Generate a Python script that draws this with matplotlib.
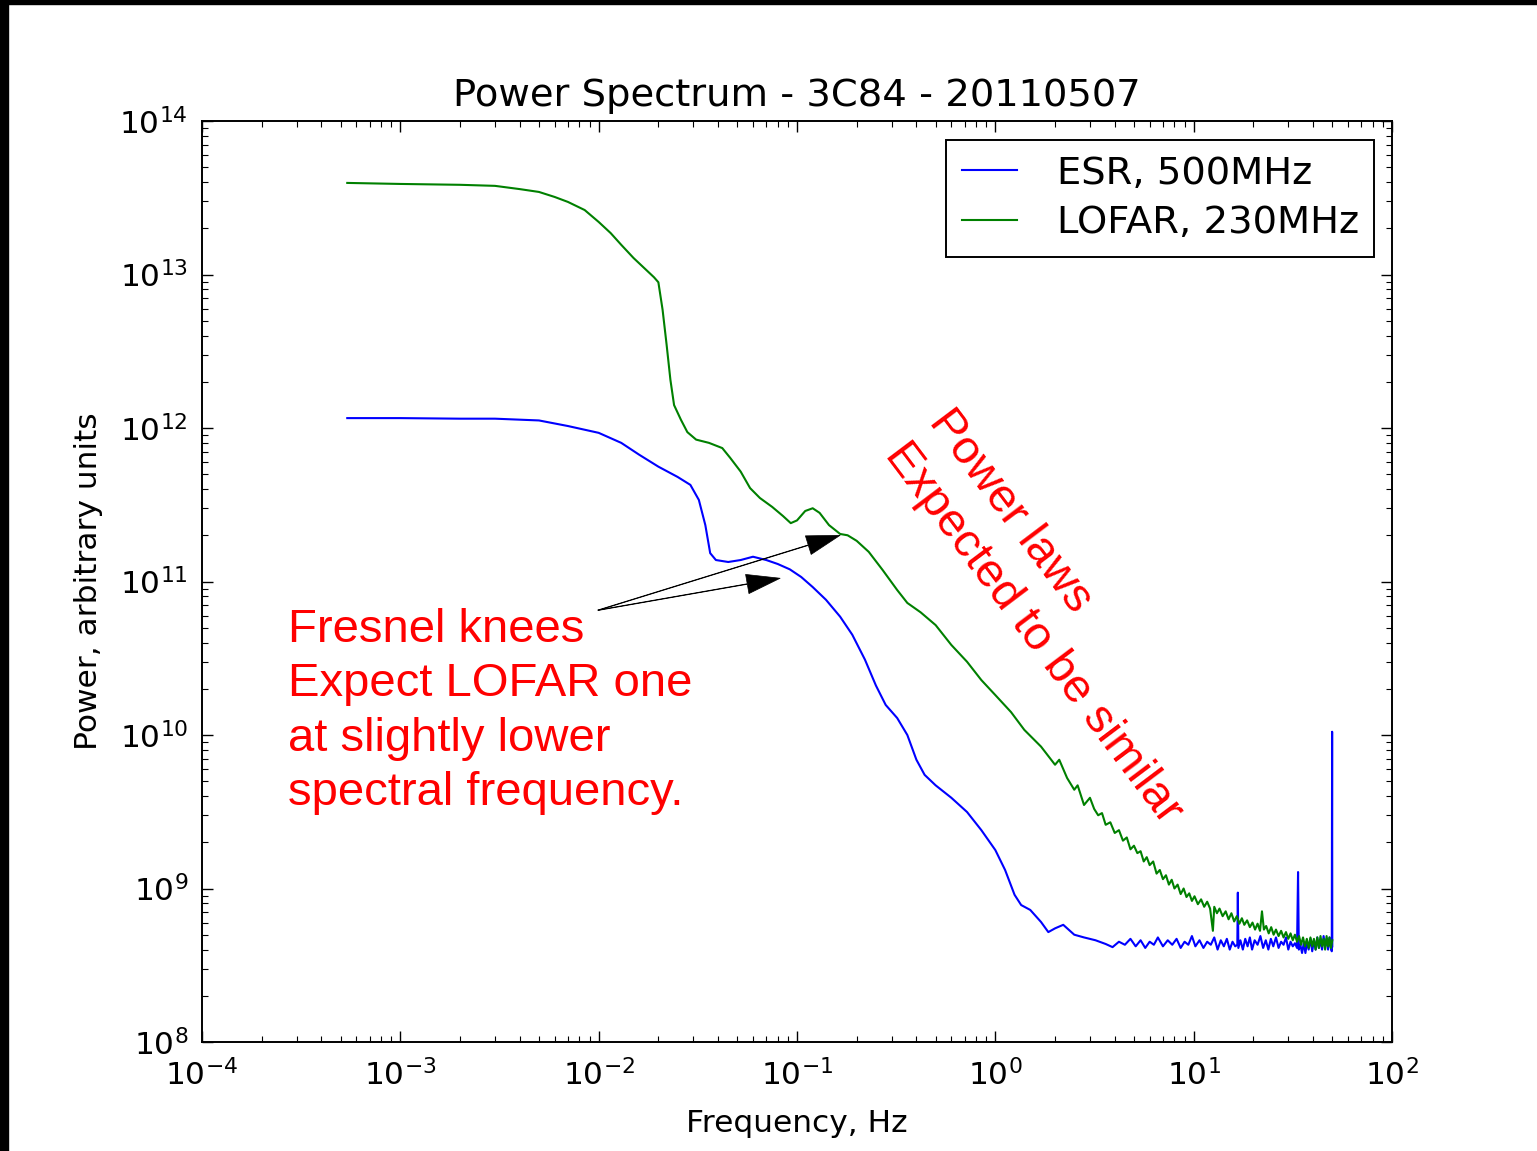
import matplotlib
matplotlib.use("Agg")
import matplotlib.pyplot as plt
from matplotlib.patches import Rectangle

# ESR 500 MHz spectrum
esr_freq = [5.4e-4, 1e-3, 2e-3, 3e-3, 5e-3, 7e-3, 1.0e-2, 1.3e-2, 1.6e-2, 2.0e-2,
            2.5e-2, 2.9e-2, 3.2e-2, 3.45e-2, 3.65e-2, 3.9e-2, 4.5e-2, 5.2e-2, 6.0e-2, 7.0e-2,
            8.0e-2, 9.2e-2, 0.105, 0.12, 0.14, 0.165, 0.19, 0.22, 0.25, 0.28,
            0.32, 0.36, 0.40, 0.44, 0.50, 0.60, 0.72, 0.85, 1.0, 1.12,
            1.25, 1.35, 1.5, 1.7, 1.85, 2.0, 2.2, 2.5, 2.8, 3.2,
            3.6, 3.9, 4.2,
            4.5, 4.8, 5.1, 5.4, 5.7, 6.0, 6.3, 6.6, 7.0, 7.4,
            7.8, 8.2, 8.6, 9.0, 9.4, 9.8, 10.2, 10.7, 11.2, 11.7,
            12.2, 12.7, 13.2, 13.7, 14.2, 14.7, 15.2, 15.7, 16.2, 16.6,
            16.7, 16.8, 17.2, 17.7, 18.2, 18.7, 19.2, 19.7, 20.3, 21.0,
            21.7, 22.4, 23.1, 23.8, 24.5, 25.2, 26.0, 26.8, 27.6, 28.4,
            29.2, 30.0, 30.8, 31.6, 32.4, 33.2, 33.6, 33.9, 34.5, 35.2,
            35.9, 36.6, 37.3, 38.0, 38.8, 39.6, 40.4, 41.2, 42.0, 42.8,
            43.6, 44.4, 45.2, 46.0, 46.8, 47.6, 48.4, 49.2, 49.7, 49.9,
            50.0]
esr_power = [1.16e12, 1.16e12, 1.15e12, 1.15e12, 1.12e12, 1.03e12, 9.3e11, 8.0e11, 6.7e11, 5.6e11,
             4.8e11, 4.26e11, 3.4e11, 2.33e11, 1.53e11, 1.38e11, 1.34e11, 1.38e11, 1.45e11, 1.38e11,
             1.30e11, 1.20e11, 1.07e11, 9.2e10, 7.6e10, 5.9e10, 4.5e10, 3.1e10, 2.1e10, 1.57e10,
             1.29e10, 1.0e10, 6.9e9, 5.5e9, 4.7e9, 3.9e9, 3.15e9, 2.4e9, 1.78e9, 1.32e9,
             9.1e8, 7.8e8, 7.25e8, 6.05e8, 5.2e8, 5.5e8, 5.8e8, 5.0e8, 4.8e8, 4.6e8,
             4.35e8, 4.15e8, 4.5e8,
             4.3e8, 4.7e8, 4.2e8, 4.6e8, 4.1e8, 4.5e8, 4.3e8, 4.8e8, 4.2e8, 4.6e8,
             4.3e8, 4.7e8, 4.1e8, 4.5e8, 4.3e8, 4.9e8, 4.2e8, 4.6e8, 4.1e8, 4.5e8,
             4.3e8, 4.8e8, 4.0e8, 4.6e8, 4.2e8, 4.7e8, 4.0e8, 4.5e8, 4.2e8, 4.3e8,
             9.4e8, 4.1e8, 4.6e8, 4.0e8, 4.7e8, 4.2e8, 4.8e8, 4.0e8, 4.6e8, 4.3e8,
             4.9e8, 4.1e8, 4.6e8, 4.0e8, 4.7e8, 4.2e8, 4.8e8, 4.1e8, 4.5e8, 4.3e8,
             4.8e8, 4.0e8, 4.5e8, 4.2e8, 4.4e8, 4.1e8, 12.8e8, 4.0e8, 4.3e8, 3.8e8,
             4.4e8, 3.8e8, 4.5e8, 4.0e8, 4.7e8, 3.9e8, 4.6e8, 4.0e8, 4.8e8, 4.1e8,
             4.6e8, 4.0e8, 4.9e8, 4.2e8, 4.7e8, 4.0e8, 4.8e8, 4.1e8, 3.9e8, 105e8,
             4.2e8]

# LOFAR 230 MHz spectrum
lofar_freq = [5.4e-4, 1e-3, 2e-3, 3e-3, 4e-3, 5e-3, 6e-3, 7e-3, 8.5e-3, 1.0e-2,
              1.15e-2, 1.3e-2, 1.5e-2, 1.7e-2, 1.9e-2, 2.0e-2, 2.1e-2, 2.2e-2, 2.3e-2, 2.4e-2,
              2.6e-2, 2.8e-2, 3.1e-2, 3.6e-2, 4.2e-2, 4.6e-2, 5.2e-2, 5.8e-2, 6.5e-2, 7.5e-2,
              8.5e-2, 9.3e-2, 0.1, 0.11, 0.12, 0.13, 0.145, 0.165, 0.18, 0.2,
              0.23, 0.27, 0.32, 0.36, 0.42, 0.5, 0.6, 0.72, 0.85, 1.0,
              1.2, 1.4, 1.7, 2.0, 2.1, 2.3, 2.5, 2.6, 2.8,
              3.0, 3.15, 3.3, 3.45, 3.6, 3.8, 4.0, 4.2, 4.4, 4.6,
              4.8, 5.0, 5.2, 5.4, 5.6, 5.8, 6.0, 6.25, 6.5, 6.75,
              7.0, 7.25, 7.5, 7.75, 8.0, 8.3, 8.6, 8.9, 9.2, 9.5,
              9.8, 10.1, 10.5, 10.9, 11.3, 11.7, 12.1, 12.5, 12.7, 13.1,
              13.5, 14.0, 14.5, 15.0, 15.5, 16.0, 16.5, 17.0, 17.5, 18.0,
              18.6, 19.2, 19.8, 20.4, 21.0, 21.6, 22.1, 22.6, 23.2, 23.9,
              24.6, 25.3, 26.0, 26.8, 27.6, 28.4, 29.2, 30.0, 30.8, 31.6,
              32.4, 33.2, 34.0, 34.8, 35.6, 36.4, 37.2, 38.0, 38.8, 39.6,
              40.4, 41.2, 42.0, 42.8, 43.6, 44.4, 45.2, 46.0, 46.8, 47.6,
              48.4, 49.2, 50.0]
lofar_power = [3.95e13, 3.89e13, 3.84e13, 3.78e13, 3.6e13, 3.45e13, 3.2e13, 2.97e13, 2.63e13, 2.2e13,
               1.86e13, 1.56e13, 1.28e13, 1.1e13, 9.6e12, 8.9e12, 5.9e12, 3.5e12, 2.06e12, 1.41e12,
               1.13e12, 9.4e11, 8.4e11, 8.0e11, 7.4e11, 6.4e11, 5.2e11, 4.06e11, 3.5e11, 3.06e11,
               2.67e11, 2.4e11, 2.5e11, 2.88e11, 3.0e11, 2.8e11, 2.33e11, 2.04e11, 2.0e11, 1.84e11,
               1.56e11, 1.19e11, 8.8e10, 7.25e10, 6.3e10, 5.2e10, 3.86e10, 3.0e10, 2.28e10, 1.82e10,
               1.41e10, 1.08e10, 8.4e9, 6.4e9, 6.9e9, 5.25e9, 4.4e9, 4.7e9, 3.5e9,
               3.9e9, 3.3e9, 3.0e9, 3.1e9, 2.6e9, 2.7e9, 2.3e9, 2.4e9, 2.05e9, 2.15e9,
               1.8e9, 1.9e9, 1.7e9, 1.75e9, 1.5e9, 1.6e9, 1.42e9, 1.5e9, 1.25e9, 1.32e9,
               1.15e9, 1.22e9, 1.06e9, 1.14e9, 1.0e9, 1.06e9, 9.2e8, 1.0e9, 8.8e8, 9.3e8,
               8.3e8, 8.9e8, 7.9e8, 8.5e8, 7.6e8, 8.2e8, 7.4e8, 5.3e8, 7.6e8, 6.9e8,
               7.4e8, 6.6e8, 7.1e8, 6.3e8, 6.9e8, 6.1e8, 6.6e8, 5.9e8, 6.4e8, 5.8e8,
               6.2e8, 5.6e8, 6.0e8, 5.4e8, 5.9e8, 5.3e8, 7.1e8, 5.4e8, 5.7e8, 5.1e8,
               5.6e8, 5.0e8, 5.4e8, 4.9e8, 5.3e8, 4.8e8, 5.2e8, 4.7e8, 5.1e8, 4.6e8,
               5.0e8, 4.5e8, 4.9e8, 4.3e8, 4.8e8, 4.2e8, 4.7e8, 4.1e8, 4.8e8, 4.2e8,
               4.7e8, 4.0e8, 4.8e8, 4.1e8, 4.9e8, 4.2e8, 4.7e8, 4.0e8, 4.9e8, 4.2e8,
               4.8e8, 4.1e8, 4.6e8]

plt.rcParams['font.family'] = ['DejaVu Sans']
plt.rcParams['axes.unicode_minus'] = False

fig = plt.figure(figsize=(15.37, 11.51), dpi=100)
ax = fig.add_axes([202 / 1537, 1 - 1042 / 1151, 1190 / 1537, 921 / 1151])

ax.plot(esr_freq, esr_power, color='#0000ff', lw=1.5, label='ESR, 500MHz')
ax.plot(lofar_freq, lofar_power, color='#008000', lw=1.5, label='LOFAR, 230MHz')

ax.set_xscale('log')
ax.set_yscale('log')
ax.set_xlim(1e-4, 1e2)
ax.set_ylim(1e8, 1e14)

for s in ax.spines.values():
    s.set_linewidth(1.4)
ax.tick_params(which='both', direction='in', top=True, right=True, labelsize=22.5)
ax.tick_params(which='major', length=8, width=1.0)
ax.tick_params(which='minor', length=4, width=0.8)
ax.tick_params(axis='x', pad=12)
ax.tick_params(axis='y', pad=10)

ax.set_title('Power Spectrum - 3C84 - 20110507', fontsize=27.7, pad=11)
ax.set_xlabel('Frequency, Hz', fontsize=22.5, labelpad=13)
ax.set_ylabel('Power, arbitrary units', fontsize=22.5, labelpad=12)

leg = ax.legend(loc='upper right', bbox_to_anchor=(0.985, 0.979), borderaxespad=0,
                fontsize=27.7, fancybox=False, framealpha=1, edgecolor='black',
                handlelength=1.43, handletextpad=1.04, labelspacing=0.35, borderpad=0.4)
leg.get_frame().set_linewidth(1.4)

red_font = ['Liberation Sans', 'DejaVu Sans']
ax.text(2.72e-4, 6.7e10, 'Fresnel knees\nExpect LOFAR one\nat slightly lower\nspectral frequency.',
        color='red', fontsize=34, family=red_font, ha='left', va='top', linespacing=1.3)
ax.text(0.624, 1.49e12, 'Power laws\nExpected to be similar', color='red', fontsize=34,
        family=red_font, ha='left', va='top', rotation=-53, rotation_mode='anchor',
        linespacing=1.3)

arrow = dict(facecolor='black', edgecolor='black', width=0.4, headwidth=14,
             headlength=24, shrink=0, linewidth=0.5)
ax.annotate('', xy=(0.165, 2.0e11), xytext=(9.93e-3, 6.5e10), arrowprops=arrow)
ax.annotate('', xy=(0.0822, 1.05e11), xytext=(9.93e-3, 6.5e10), arrowprops=arrow)

# black strips along the top and left edge of the screenshot
fig.add_artist(Rectangle((0, 1 - 4 / 1151), 1, 4 / 1151, transform=fig.transFigure,
                         color='black', zorder=10))
fig.add_artist(Rectangle((0, 0), 8 / 1537, 1, transform=fig.transFigure,
                         color='black', zorder=10))

fig.savefig('out.png', dpi=100)
